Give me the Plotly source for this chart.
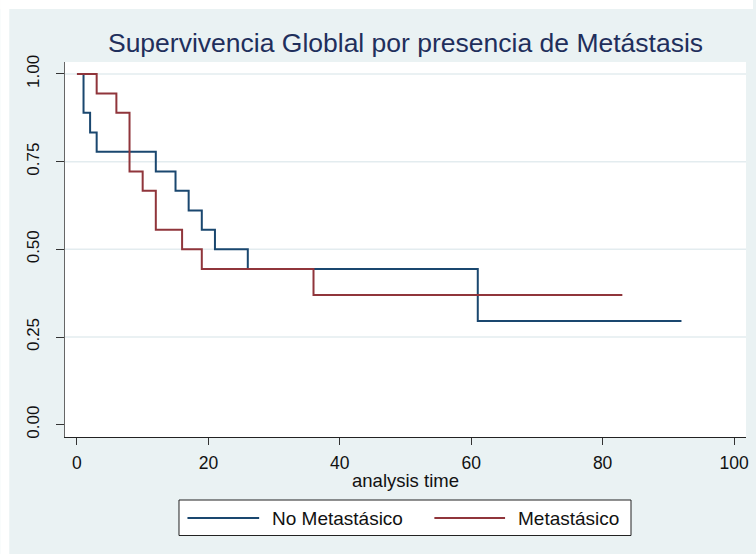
import plotly.graph_objects as go

# Kaplan-Meier survival estimates by metastasis status
no_meta_time = [0, 1, 2, 3, 12, 15, 17, 19, 21, 26, 61, 92]
no_meta_surv = [1.000, 0.889, 0.833, 0.778, 0.722, 0.667, 0.611, 0.556, 0.500, 0.444, 0.296, 0.296]

meta_time = [0, 3, 6, 8, 10, 12, 16, 19, 36, 83]
meta_surv = [1.000, 0.944, 0.889, 0.722, 0.667, 0.556, 0.500, 0.444, 0.370, 0.370]

x_ticks = [0, 20, 40, 60, 80, 100]
y_ticks = [0.00, 0.25, 0.50, 0.75, 1.00]
y_tick_text = ["0.00", "0.25", "0.50", "0.75", "1.00"]
grid_levels = [0.25, 0.50, 0.75, 1.00]

series_names = ["No Metastásico", "Metastásico"]
series_colors = ["#1a476f", "#90353b"]

FONT = "Liberation Sans, Arial, sans-serif"
BG = "#eaf2f3"

W, H = 756, 554
ML, MR, MT, MB = 65, 7, 62, 117
PW, PH = W - ML - MR, H - MT - MB


def px(xp):
    return (xp - ML) / PW


def py(yp):
    return (H - MB - yp) / PH


X_RANGE = [-1.82, 101.82]
Y_RANGE = [-0.035, 1.034]

fig = go.Figure()
fig.add_trace(go.Scatter(
    x=no_meta_time, y=no_meta_surv, mode="lines", line_shape="hv",
    line=dict(color=series_colors[0], width=2), name=series_names[0],
    showlegend=False,
))
fig.add_trace(go.Scatter(
    x=meta_time, y=meta_surv, mode="lines", line_shape="hv",
    line=dict(color=series_colors[1], width=2), name=series_names[1],
    showlegend=False,
))

shapes = []
# horizontal grid lines (none at zero)
for g in grid_levels:
    shapes.append(dict(type="line", xref="x", yref="y", x0=X_RANGE[0], x1=X_RANGE[1],
                       y0=g, y1=g, line=dict(color="#e3ecef", width=1.5), layer="below"))
# white outer frame strips around the graph region
shapes.append(dict(type="rect", xref="paper", yref="paper", x0=px(0), x1=px(W),
                   y0=py(9), y1=py(0), fillcolor="white", line=dict(width=0), layer="below"))
shapes.append(dict(type="rect", xref="paper", yref="paper", x0=px(0), x1=px(9),
                   y0=py(H), y1=py(0), fillcolor="white", line=dict(width=0), layer="below"))
# legend box and line samples
shapes.append(dict(type="rect", xref="paper", yref="paper", x0=px(179.5), x1=px(633.5),
                   y0=py(535.5), y1=py(500), fillcolor="white",
                   line=dict(color="#222222", width=1), layer="above"))
legend_y = py(518)
legend_lines = [(188, 260), (436, 507)]
for (a, b), c in zip(legend_lines, series_colors):
    shapes.append(dict(type="line", xref="paper", yref="paper", x0=px(a), x1=px(b),
                       y0=legend_y, y1=legend_y, line=dict(color=c, width=2), layer="above"))

annotations = []
legend_text_x = [271, 518]
for name, tx in zip(series_names, legend_text_x):
    annotations.append(dict(text=name, xref="paper", yref="paper", x=px(tx), y=legend_y,
                            xanchor="left", yanchor="middle", showarrow=False,
                            font=dict(family=FONT, size=19, color="#111111")))

fig.update_layout(
    width=W, height=H,
    margin=dict(l=ML, r=MR, t=MT, b=MB, pad=0),
    paper_bgcolor=BG, plot_bgcolor="white",
    title=dict(text="Supervivencia Globlal por presencia de Metástasis",
               x=0.5, xref="paper", y=1 - 43 / H, yref="container",
               xanchor="center", yanchor="middle",
               font=dict(family=FONT, size=26.5, color="#1f2f5c")),
    shapes=shapes, annotations=annotations,
    showlegend=False,
)
fig.update_xaxes(
    range=X_RANGE, tickvals=x_ticks, ticktext=[str(v) for v in x_ticks],
    showgrid=False, zeroline=False, showline=True, linecolor="#222222", linewidth=1,
    ticks="outside", ticklen=7, tickwidth=1, tickcolor="#333333",
    tickfont=dict(family=FONT, size=17.5, color="#111111"),
    title=dict(text="analysis time", font=dict(family=FONT, size=18.5, color="#111111"),
               standoff=2),
    ticklabelstandoff=3,
)
fig.update_yaxes(
    range=Y_RANGE, tickvals=y_ticks, ticktext=y_tick_text, tickangle=-90,
    showgrid=False, zeroline=False, showline=True, linecolor="#666666", linewidth=1,
    ticks="outside", ticklen=8, tickwidth=1, tickcolor="#333333",
    tickfont=dict(family=FONT, size=17, color="#111111"),
    ticklabelstandoff=10,
)

fig.write_html("out.html")
